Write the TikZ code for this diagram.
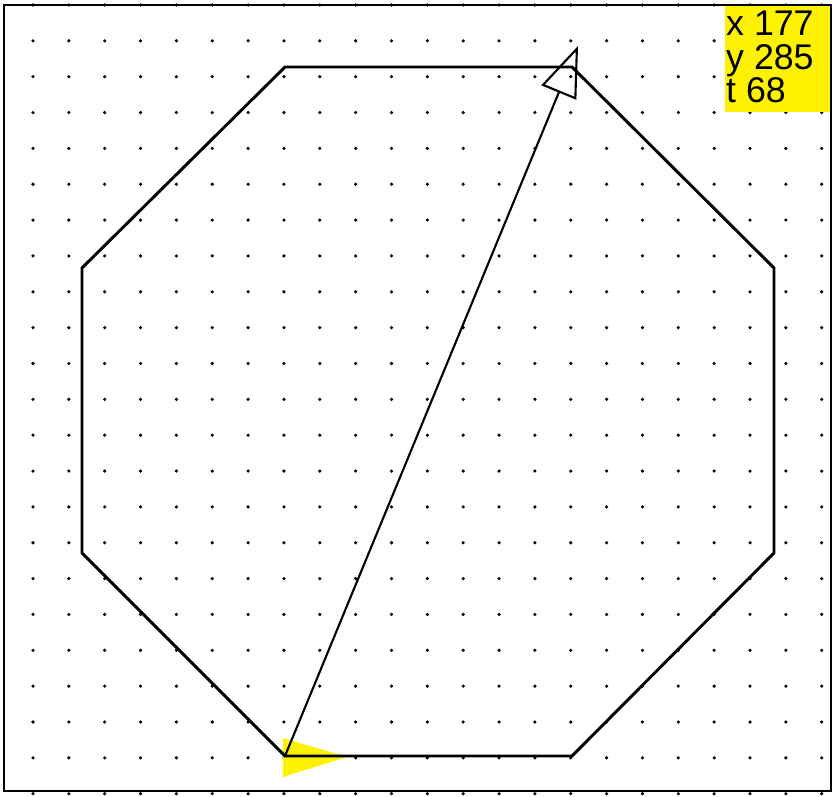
\documentclass[tikz,border=0pt]{standalone}
\usepackage{fontspec}
\setmainfont{Liberation Sans}
\usetikzlibrary{arrows.meta}

\begin{document}
\begin{tikzpicture}[x=0.03cm, y=-0.03cm, line join=miter]
	\tikzstyle{side}=[line width=2.5pt]
	\tikzstyle{trail}=[line width=1.8pt, -{Triangle[open, length=43pt, width=32pt, line width=1.8pt]}]
	\tikzstyle{readout}=[anchor=north west, align=left, inner sep=0pt, font=\fontsize{30.5}{28.4}\selectfont]

	\useasboundingbox (0,0) rectangle (837,797);

	% dot grid
	\foreach \i in {0,...,22}
		\foreach \j in {0,...,22}
			\fill (33+35.85*\i, 5+35.85*\j) circle (1.5pt);

	% turtle
	\fill[yellow] (283,738) -- (347,757) -- (283,777) -- cycle;

	\coordinate (a) at (285,67);
	\coordinate (b) at (572,67);
	\coordinate (c) at (774,268);
	\coordinate (d) at (774,553);
	\coordinate (e) at (572,756);
	\coordinate (home) at (285,756);
	\coordinate (g) at (82,553);
	\coordinate (h) at (82,268);
	\coordinate (tip) at (578,46);

	\draw[side] (a) -- (b) -- (c) -- (d) -- (e) -- (home) -- (g) -- (h) -- cycle;
	\draw[trail] (home) -- (tip);

	% position box
	\fill[yellow] (725,5) rectangle (832,112);
	\node[readout] (pos) at (726,11) {x 177\\y 285\\t 68};

	\draw[line width=2pt] (4,5) rectangle (831,791);
\end{tikzpicture}
\end{document}
